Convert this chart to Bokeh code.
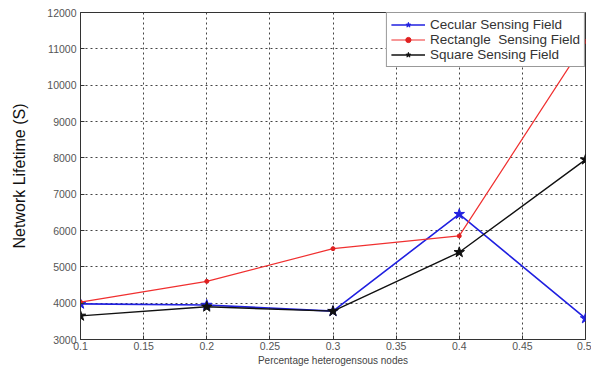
from bokeh.plotting import figure
from bokeh.models import Legend, LegendItem, FixedTicker, Range1d
from bokeh.embed import file_html
from bokeh.resources import INLINE

# Percentage of heterogeneous nodes vs. network lifetime (seconds)
x_vals = [0.1, 0.2, 0.3, 0.4, 0.5]
circular = [3980, 3950, 3780, 6450, 3580]
rectangle = [4030, 4600, 5500, 5850, 11200]
square = [3650, 3900, 3780, 5400, 7950]

x_ticks = [0.1, 0.15, 0.2, 0.25, 0.3, 0.35, 0.4, 0.45, 0.5]
y_ticks = [3000, 4000, 5000, 6000, 7000, 8000, 9000, 10000, 11000, 12000]

FONT = "Liberation Sans"

p = figure(width=591, height=371, output_backend="svg", toolbar_location=None,
           x_range=Range1d(0.1, 0.5), y_range=Range1d(3000, 12000),
           min_border_left=80, min_border_right=6, min_border_top=12, min_border_bottom=32)

p.background_fill_color = "white"
p.border_fill_color = "white"
p.outline_line_color = "#333333"
p.outline_line_width = 1

for ax in (p.xaxis[0], p.yaxis[0]):
    ax.major_label_text_font = FONT
    ax.major_label_text_font_size = "10.5px"
    ax.major_label_text_color = "#555555"
    ax.axis_line_color = "#333333"
    ax.major_tick_in = 4
    ax.major_tick_out = 0
    ax.minor_tick_line_color = None
    ax.major_tick_line_color = "#333333"

p.xaxis.ticker = FixedTicker(ticks=x_ticks)
p.yaxis.ticker = FixedTicker(ticks=y_ticks)
p.xaxis.major_label_overrides = {0.1: "0.1", 0.2: "0.2", 0.3: "0.3", 0.4: "0.4", 0.5: "0.5"}
p.xaxis.major_label_standoff = 2
p.yaxis.major_label_standoff = 4

p.xaxis.axis_label = "Percentage heterogensous nodes"
p.xaxis.axis_label_text_font = FONT
p.xaxis.axis_label_text_font_size = "10px"
p.xaxis.axis_label_text_font_style = "normal"
p.xaxis.axis_label_text_color = "#444444"
p.xaxis.axis_label_standoff = 2

p.yaxis.axis_label = "Network Lifetime (S)"
p.yaxis.axis_label_text_font = FONT
p.yaxis.axis_label_text_font_size = "16px"
p.yaxis.axis_label_text_font_style = "normal"
p.yaxis.axis_label_text_color = "#111111"
p.yaxis.axis_label_standoff = 16

p.xgrid.grid_line_color = "#444444"
p.ygrid.grid_line_color = "#444444"
p.xgrid.grid_line_dash = "2 3"
p.ygrid.grid_line_dash = "2 3"
p.xgrid.grid_line_width = 1
p.ygrid.grid_line_width = 1

# Series lines and markers
r_c = p.line(x_vals, circular, line_color="#2020e0", line_width=1.6)
m_c = p.scatter(x_vals, circular, marker="star", size=11, fill_color="#2020e0", line_color="#2020e0")

r_r = p.line(x_vals, rectangle, line_color="#f03030", line_width=1.2)
m_r = p.scatter(x_vals, rectangle, marker="circle", size=4, fill_color="#e02020", line_color="#e02020")

r_s = p.line(x_vals, square, line_color="#111111", line_width=1.4)
m_s = p.scatter(x_vals, square, marker="star", size=11, fill_color="#111111", line_color="#111111")

legend = Legend(items=[
    LegendItem(label="Cecular Sensing Field", renderers=[r_c, m_c]),
    LegendItem(label="Rectangle  Sensing Field", renderers=[r_r, m_r]),
    LegendItem(label="Square Sensing Field", renderers=[r_s, m_s]),
], location="top_right")
legend.label_text_font = FONT
legend.label_text_font_size = "13.5px"
legend.label_text_color = "#333333"
legend.glyph_width = 34
legend.glyph_height = 13
legend.spacing = 0
legend.padding = 4
legend.margin = 0
legend.label_standoff = 5
legend.label_height = 13
legend.border_line_color = "#333333"
legend.border_line_width = 1
legend.background_fill_alpha = 1
p.add_layout(legend)

open("out.html", "w").write(file_html(p, INLINE))
